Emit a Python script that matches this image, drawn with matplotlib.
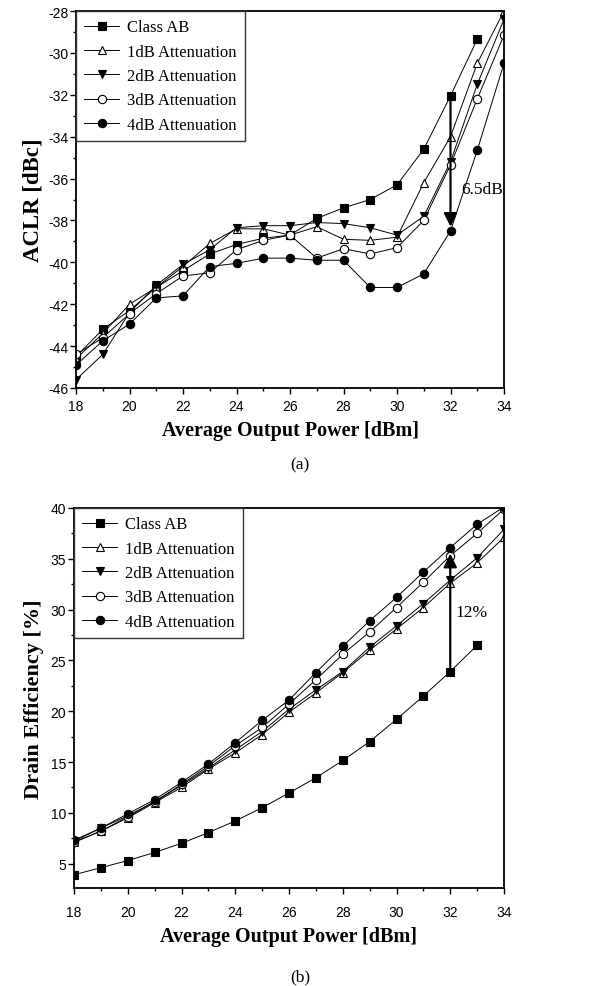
import matplotlib.pyplot as plt
import numpy as np

plt.rcParams['axes.unicode_minus'] = False

# output power sweep [dBm]
power = np.arange(18, 35)

labels = ['Class AB', '1dB Attenuation', '2dB Attenuation', '3dB Attenuation', '4dB Attenuation']

# (a) ACLR [dBc]  (class AB has no point at 34 dBm)
aclr_ab = [-44.5, -43.2, -42.3, -41.2, -40.4, -39.6, -39.15, -38.85, -38.7, -37.9,
           -37.4, -37.0, -36.3, -34.6, -32.05, -29.35]
aclr_1db = [-44.6, -43.4, -42.0, -41.2, -40.2, -39.1, -38.4, -38.4, -38.7, -38.3,
            -38.9, -38.95, -38.8, -36.2, -34.0, -30.5, -28.0]
aclr_2db = [-45.6, -44.4, -42.4, -41.1, -40.1, -39.4, -38.35, -38.25, -38.25, -38.1,
            -38.15, -38.35, -38.7, -37.8, -35.2, -31.5, -28.4]
aclr_3db = [-44.4, -43.6, -42.45, -41.5, -40.65, -40.5, -39.4, -38.95, -38.7, -39.8,
            -39.35, -39.6, -39.3, -38.0, -35.35, -32.2, -29.15]
aclr_4db = [-44.9, -43.75, -42.95, -41.7, -41.6, -40.2, -40.05, -39.8, -39.8, -39.9,
            -39.9, -41.2, -41.2, -40.55, -38.5, -34.65, -30.5]

# (b) drain efficiency [%]
eff_ab = [3.9, 4.6, 5.3, 6.1, 7.0, 8.05, 9.2, 10.5, 11.95, 13.45,
          15.15, 17.0, 19.2, 21.5, 23.9, 26.5]
eff_1db = [7.1, 8.2, 9.5, 11.0, 12.5, 14.3, 15.9, 17.7, 19.9, 21.8,
           23.8, 26.0, 28.1, 30.2, 32.6, 34.6, 37.1]
eff_2db = [7.2, 8.5, 9.7, 11.1, 12.7, 14.4, 16.2, 18.0, 20.2, 22.1,
           23.9, 26.3, 28.4, 30.6, 32.9, 35.1, 37.9]
eff_3db = [7.1, 8.2, 9.6, 11.1, 12.8, 14.6, 16.6, 18.4, 20.7, 23.1,
           25.6, 27.8, 30.2, 32.7, 35.3, 37.5, 39.9]
eff_4db = [7.3, 8.5, 9.9, 11.3, 13.0, 14.8, 16.9, 19.1, 21.1, 23.8,
           26.4, 28.9, 31.2, 33.7, 36.1, 38.4, 40.1]

styles = [dict(marker='s', mfc='black'),
          dict(marker='^', mfc='white'),
          dict(marker='v', mfc='black'),
          dict(marker='o', mfc='white'),
          dict(marker='o', mfc='black')]

serif = 'Liberation Serif'
sans = 'Liberation Sans'


def draw(ax, series, ylim, yticks, ylabel, ylabel_size, ylabelpad, xpad, xlabelpad):
    for vals, lab, st in zip(series, labels, styles):
        ax.plot(power[:len(vals)], vals, color='black', lw=0.7, ms=6, mec='black',
                mew=0.8, label=lab, **st)
    ax.set_xlim(18, 34)
    ax.set_ylim(*ylim)
    ax.set_xticks(np.arange(18, 35, 2))
    ax.set_xticks(np.arange(19, 34, 2), minor=True)
    ax.set_yticks(yticks)
    step = yticks[1] - yticks[0]
    ax.set_yticks(np.arange(yticks[0] + step / 2, yticks[-1], step), minor=True)
    ax.tick_params(which='major', direction='out', length=4, width=1, labelsize=10)
    ax.tick_params(which='minor', direction='out', length=2.5, width=1)
    ax.tick_params(axis='y', pad=1.5)
    ax.tick_params(axis='x', pad=xpad)
    for t in ax.get_xticklabels() + ax.get_yticklabels():
        t.set_fontfamily(sans)
    for s in ax.spines.values():
        s.set_linewidth(1.3)
    ax.set_xlabel('Average Output Power [dBm]', fontfamily=serif, fontweight='bold',
                  fontsize=14.5, labelpad=xlabelpad)
    ax.set_ylabel(ylabel, fontfamily=serif, fontweight='bold', fontsize=ylabel_size,
                  labelpad=ylabelpad)
    leg = ax.legend(loc='upper left', bbox_to_anchor=(0, 1), borderaxespad=0,
                    prop={'family': serif, 'size': 12}, fancybox=False,
                    edgecolor='#333333', framealpha=1, handlelength=2.1,
                    labelspacing=0.5, borderpad=0.5, handletextpad=0.45)
    leg.get_frame().set_linewidth(1.0)


fig = plt.figure(figsize=(6.12, 9.87), dpi=100)

ax1 = fig.add_axes([76 / 612, 1 - 389 / 987, 428 / 612, 377 / 987])
draw(ax1, [aclr_ab, aclr_1db, aclr_2db, aclr_3db, aclr_4db], (-46, -28),
     np.arange(-46, -27, 2), 'ACLR [dBc]', 16.5, 3, 4, 5)
i32 = list(power).index(32)
ax1.annotate('', xy=(32, aclr_4db[i32] + 0.2), xytext=(32, aclr_ab[i32]),
             arrowprops=dict(arrowstyle='-|>', color='black', lw=1.6,
                             mutation_scale=20, shrinkA=0, shrinkB=0))
ax1.text(32.4, -36.5, '6.5dB', fontfamily=serif, fontsize=12.5, va='center', ha='left')
fig.text(0.49, 1 - 465 / 987, '(a)', fontfamily=serif, fontsize=12.5, ha='center', va='center')

ax2 = fig.add_axes([74 / 612, 1 - 889 / 987, 430 / 612, 380 / 987])
draw(ax2, [eff_ab, eff_1db, eff_2db, eff_3db, eff_4db], (2.6, 40),
     np.arange(5, 41, 5), 'Drain Efficiency [%]', 16, 5, 8, 5)
ax2.annotate('', xy=(32, eff_4db[i32] - 0.6), xytext=(32, eff_ab[i32]),
             arrowprops=dict(arrowstyle='-|>', color='black', lw=1.6,
                             mutation_scale=20, shrinkA=0, shrinkB=0))
ax2.text(32.2, 29.8, '12%', fontfamily=serif, fontsize=12.5, va='center', ha='left')
fig.text(0.49, 1 - 977 / 987, '(b)', fontfamily=serif, fontsize=12.5, ha='center', va='center')

fig.savefig('out.png', dpi=100, facecolor='white')
